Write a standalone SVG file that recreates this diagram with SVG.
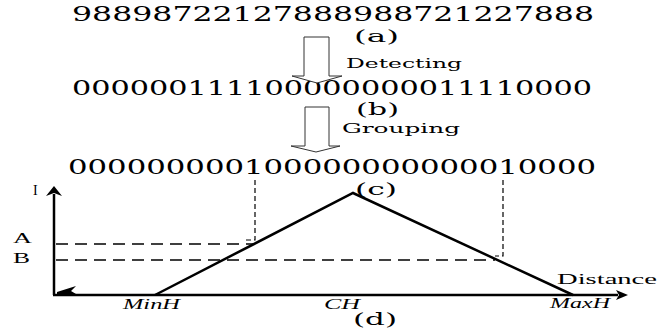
<svg xmlns="http://www.w3.org/2000/svg" width="658" height="328" viewBox="0 0 658 328">
<style>
  .seq { font-family: "DejaVu Serif", "Liberation Serif", serif; font-size: 19.5px; fill: #000; }
  .lab { font-family: "DejaVu Serif", "Liberation Serif", serif; font-size: 16px; fill: #000; }
  .step { font-family: "DejaVu Serif", "Liberation Serif", serif; font-size: 13px; fill: #000; }
  .ax { font-family: "Liberation Serif", "DejaVu Serif", serif; font-size: 14px; fill: #000; }
  .it { font-family: "Liberation Serif", "DejaVu Serif", serif; font-size: 14px; font-style: italic; fill: #000; }
  .blk { fill: #fff; stroke: #333; stroke-width: 1; }
  .axis { stroke: #000; stroke-width: 2.5; fill: none; }
  .tri { stroke: #000; stroke-width: 2.5; fill: none; stroke-linejoin: miter; }
  .hd { stroke: #000; stroke-width: 1.6; stroke-dasharray: 12 7; fill: none; }
  .vd { stroke: #000; stroke-width: 1.2; stroke-dasharray: 5 3; fill: none; }
</style>
<rect width="658" height="328" fill="#fff"/>

<g id="seq-a">
  <text class="seq" x="72" y="21" textLength="522" lengthAdjust="spacingAndGlyphs">98898722127888988721227888</text>
  <text class="lab" x="354" y="42" textLength="45" lengthAdjust="spacingAndGlyphs">(a)</text>
</g>

<g id="seq-b">
  <text class="seq" x="72" y="95" textLength="520" lengthAdjust="spacingAndGlyphs">000000111100000000011110000</text>
  <text class="lab" x="356" y="115" textLength="43" lengthAdjust="spacingAndGlyphs">(b)</text>
</g>

<g id="seq-c">
  <text class="seq" x="68" y="174" textLength="528" lengthAdjust="spacingAndGlyphs">000000000100000000000010000</text>
  <text class="lab" x="355" y="195" textLength="42" lengthAdjust="spacingAndGlyphs">(c)</text>
</g>

<g id="connectors">
  <path class="blk" d="M304,37 H329 V76 H342 L317,83 L292,76 H304 Z"/>
  <text class="step" x="346" y="68" textLength="116" lengthAdjust="spacingAndGlyphs">Detecting</text>
  <path class="blk" d="M305,107 H329 V146 H340 L316,152 L291,146 H305 Z"/>
  <text class="step" x="342" y="133" font-size="12.5" textLength="118" lengthAdjust="spacingAndGlyphs">Grouping</text>
</g>

<g id="chart">
  <line class="axis" x1="54" y1="295" x2="54" y2="194"/>
  <polygon points="54,186 46,196 54,193 62,196" fill="#000"/>
  <line class="axis" x1="53" y1="295" x2="618" y2="295"/>
  <polygon points="628,295 616,290 619,295 616,300" fill="#000"/>
  <polygon points="57,292 76,286 71,291 76,294 57,294" fill="#000"/>
  <line class="hd" x1="56" y1="244" x2="255" y2="244"/>
  <line class="hd" x1="56" y1="260" x2="495" y2="260"/>
  <polyline class="vd" points="255,180 255,240 243,240"/>
  <polyline class="vd" points="503,180 503,256 495,256"/>
  <polyline class="tri" points="155,295 353,193 573,295"/>
  <text class="ax" x="33" y="195" font-size="11">I</text>
  <text class="ax" x="13" y="243" font-size="12" textLength="19" lengthAdjust="spacingAndGlyphs">A</text>
  <text class="ax" x="13" y="263" font-size="12" textLength="17" lengthAdjust="spacingAndGlyphs">B</text>
  <text class="ax" x="557" y="284" font-size="15" textLength="100" lengthAdjust="spacingAndGlyphs">Distance</text>
  <text class="it" x="123" y="309" textLength="57" lengthAdjust="spacingAndGlyphs">MinH</text>
  <text class="it" x="324" y="309" textLength="36" lengthAdjust="spacingAndGlyphs">CH</text>
  <text class="it" x="550" y="308" textLength="60" lengthAdjust="spacingAndGlyphs">MaxH</text>
  <text class="lab" x="353" y="325" textLength="44" lengthAdjust="spacingAndGlyphs">(d)</text>
</g>
</svg>
